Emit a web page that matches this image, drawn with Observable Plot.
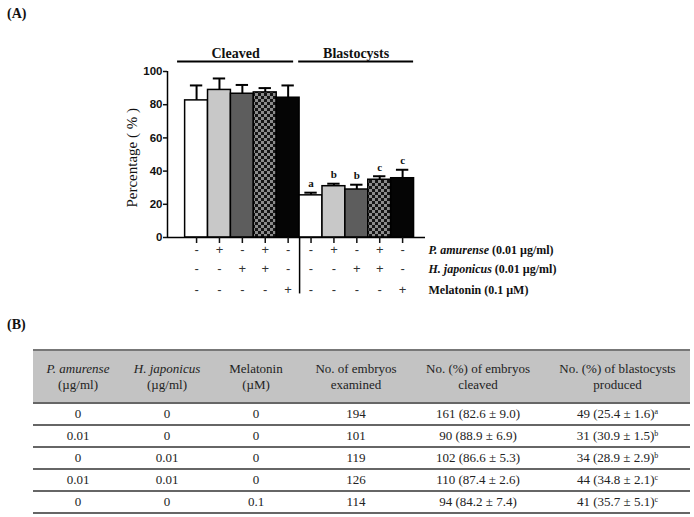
<!DOCTYPE html>
<html>
<head>
<meta charset="utf-8">
<script src="https://cdn.jsdelivr.net/npm/d3@7"></script>
<script src="https://cdn.jsdelivr.net/npm/@observablehq/plot@0.6"></script>
<style>
  html, body { margin: 0; padding: 0; background: #fff; }
  #page { position: relative; width: 694px; height: 517px; overflow: hidden; }
  .panel-label { position: absolute; font-family: "Liberation Serif", "Times New Roman", serif; font-weight: bold; font-size: 14px; color: #111; }
  #chart { position: absolute; left: 0; top: 0; }
  #tbl { position: absolute; left: 33px; top: 349px; border-collapse: collapse; table-layout: fixed; width: 657px;
         font-family: "Liberation Serif", "Times New Roman", serif; font-size: 13px; color: #222; }
  #tbl th { background: #c3c3c3; font-weight: normal; height: 51px; line-height: 16px; text-align: center; vertical-align: middle;
            border-top: 2px solid #777; border-bottom: 2px solid #666; padding: 0; }
  #tbl td { height: 20px; text-align: center; vertical-align: middle; border-bottom: 2px solid #666; padding: 0; line-height: 16px; }
  #tbl sup { font-size: 8px; vertical-align: 4px; line-height: 0; }
</style>
</head>
<body>
<div id="page">
  <div class="panel-label" style="left:7px; top:6px;">(A)</div>
  <div id="chart"></div>
  <div class="panel-label" style="left:7px; top:317px;">(B)</div>
  <table id="tbl"></table>
</div>
<script>
// ---------------- data ----------------
const treatments = ["Control", "P. amurense", "H. japonicus", "P. amurense + H. japonicus", "Melatonin"];
const groups = ["Cleaved", "Blastocysts"];
const pAmurense = [0, 0.01, 0, 0.01, 0];      // µg/ml
const hJaponicus = [0, 0, 0.01, 0.01, 0];     // µg/ml
const melatonin = [0, 0, 0, 0, 0.1];          // µM
const embryosExamined = [194, 101, 119, 126, 114];
const cleavedN = [161, 90, 102, 110, 94];
const cleavedPct = [82.6, 88.9, 86.6, 87.4, 84.2];
const cleavedSD = [9.0, 6.9, 5.3, 2.6, 7.4];
const blastN = [49, 31, 34, 44, 41];
const blastPct = [25.4, 30.9, 28.9, 34.8, 35.7];
const blastSD = [1.6, 1.5, 2.9, 2.1, 5.1];
const blastLetters = ["a", "b", "b", "c", "c"];
const yTicks = [0, 20, 40, 60, 80, 100];
const yLabel = "Percentage ( % )";
const rowSpecies = ["P. amurense", "H. japonicus", "Melatonin"];
const rowDose = ["(0.01 µg/ml)", "(0.01 µg/ml)", "(0.1 µM)"];
const rowItalic = [true, true, false];
const tableHeaders = [
  ["P. amurense", "(µg/ml)", true],
  ["H. japonicus", "(µg/ml)", true],
  ["Melatonin", "(µM)", false],
  ["No. of embryos", "examined", false],
  ["No. (%) of embryos", "cleaved", false],
  ["No. (%) of blastocysts", "produced", false]
];

// ---------------- build ----------------
const n = treatments.length;
const bars = [];
groups.forEach((g, gi) => {
  treatments.forEach((t, i) => {
    bars.push({
      idx: gi * n + i, group: g, treatment: t,
      value: gi === 0 ? cleavedPct[i] : blastPct[i],
      sd: gi === 0 ? cleavedSD[i] : blastSD[i],
      letter: gi === 0 ? "" : blastLetters[i],
      flags: [pAmurense[i] > 0, hJaponicus[i] > 0, melatonin[i] > 0]
    });
  });
});
const groupInfo = groups.map((g, gi) => {
  const first = gi * n, last = gi * n + n - 1;
  const x1 = first - 0.5 - (gi === 0 ? 0.33 : 0.04);
  const x2 = last + 0.5 - (gi === 0 ? 0.26 : 0.02);
  return {group: g, x1, x2, xc: (x1 + x2) / 2};
});
const xDomain = [-1.27, bars.length];
const serif = "'Liberation Serif', 'Times New Roman', serif";
const sans = "'Liberation Sans', Arial, sans-serif";
const rowDy = [16, 35, 56];

const marks = [
  Plot.rectY(bars, {x1: d => d.idx - 0.5, x2: d => d.idx + 0.5, y: "value", fill: "treatment", stroke: "#000", strokeWidth: 1.5}),
  Plot.ruleX(bars, {x: "idx", y1: "value", y2: d => d.value + d.sd, stroke: "#000", strokeWidth: 2}),
  Plot.ruleY(bars, {y: d => d.value + d.sd, x1: d => d.idx - 0.27, x2: d => d.idx + 0.27, stroke: "#000", strokeWidth: 2}),
  Plot.text(bars.filter(d => d.letter), {x: "idx", y: d => d.value + d.sd, text: "letter", dy: -9,
    fontFamily: serif, fontWeight: "bold", fontSize: 11, fill: "#111"}),
  Plot.ruleY([0], {stroke: "#000", strokeWidth: 1.5}),
  Plot.ruleX([xDomain[0]], {y1: 0, y2: 100, stroke: "#000", strokeWidth: 1.5}),
  Plot.axisY({ticks: yTicks, tickSize: 4, tickPadding: 1, label: null, fontSize: 11.5, fontWeight: "bold", strokeWidth: 1.5}),
  Plot.axisX({ticks: bars.map(d => d.idx), tickSize: 6, tickFormat: () => "", label: null, strokeWidth: 1.5}),
  Plot.ruleX([n - 0.5], {y1: 0, y2: -34, stroke: "#000", strokeWidth: 1.5}),
  Plot.ruleY(groupInfo, {y: 100, x1: "x1", x2: "x2", dy: -10, stroke: "#000", strokeWidth: 1.8}),
  Plot.text(groupInfo, {x: "xc", frameAnchor: "top", dy: -23, text: "group",
    fontFamily: serif, fontWeight: "bold", fontSize: 14, fill: "#111"}),
  Plot.text([yLabel], {x: xDomain[0], y: 48, rotate: -90, dx: -35, text: d => d,
    fontFamily: serif, fontSize: 15, fill: "#111"})
];
rowSpecies.forEach((s, r) => {
  marks.push(Plot.text(bars, {x: "idx", text: d => d.flags[r] ? "+" : "-", frameAnchor: "bottom", dy: rowDy[r],
    fontFamily: sans, fontSize: 13, fill: "#333"}));
  marks.push(Plot.text([s + " " + rowDose[r]], {frameAnchor: "bottom-right", textAnchor: "start", dx: 3, dy: rowDy[r],
    fontFamily: serif, fontWeight: "bold", fontSize: 12, fill: "#111"}));
});

const chart = Plot.plot({
  width: 694, height: 310,
  marginLeft: 167, marginRight: 269, marginTop: 71, marginBottom: 73,
  x: {type: "linear", domain: xDomain, axis: null},
  y: {domain: [0, 100], axis: null},
  color: {type: "ordinal", domain: treatments, range: ["#ffffff", "#c8c8c8", "#5d5d5d", "url(#checker)", "#050505"]},
  style: {fontFamily: sans, fontSize: "11px", color: "#111", background: "transparent", overflow: "visible"},
  marks
});

// checkerboard pattern
const svgSel = d3.select(chart);
const defs = svgSel.insert("defs", ":first-child");
const pat = defs.append("pattern").attr("id", "checker").attr("patternUnits", "userSpaceOnUse")
  .attr("width", 6).attr("height", 6);
pat.append("rect").attr("width", 6).attr("height", 6).attr("fill", "#151515");
pat.append("rect").attr("width", 3).attr("height", 3).attr("fill", "#8c8c8c");
pat.append("rect").attr("x", 3).attr("y", 3).attr("width", 3).attr("height", 3).attr("fill", "#8c8c8c");

// italic species names in row labels
svgSel.selectAll("text").each(function() {
  const txt = this.textContent;
  rowSpecies.forEach((s, r) => {
    if (txt === s + " " + rowDose[r]) {
      const el = d3.select(this);
      el.text(null);
      el.append("tspan").attr("font-style", rowItalic[r] ? "italic" : "normal").text(s);
      el.append("tspan").text(" " + rowDose[r]);
    }
  });
});
document.getElementById("chart").appendChild(chart);

// ---------------- table ----------------
const tbl = d3.select("#tbl");
const colW = [90, 88, 90, 110, 134, 145];
tbl.append("colgroup").selectAll("col").data(colW).join("col").style("width", d => d + "px");
const hr = tbl.append("thead").append("tr");
tableHeaders.forEach(([a, b, it]) => {
  const th = hr.append("th");
  th.append("span").style("font-style", it ? "italic" : "normal").text(a);
  th.append("br");
  th.append("span").text(b);
});
const tb = tbl.append("tbody");
const fmt = v => v.toFixed(1);
treatments.forEach((t, i) => {
  const tr = tb.append("tr");
  tr.append("td").text(pAmurense[i]);
  tr.append("td").text(hJaponicus[i]);
  tr.append("td").text(melatonin[i]);
  tr.append("td").text(embryosExamined[i]);
  tr.append("td").text(`${cleavedN[i]} (${fmt(cleavedPct[i])} ± ${fmt(cleavedSD[i])})`);
  const td = tr.append("td");
  td.append("span").text(`${blastN[i]} (${fmt(blastPct[i])} ± ${fmt(blastSD[i])})`);
  td.append("sup").text(blastLetters[i]);
});
</script>
</body>
</html>
